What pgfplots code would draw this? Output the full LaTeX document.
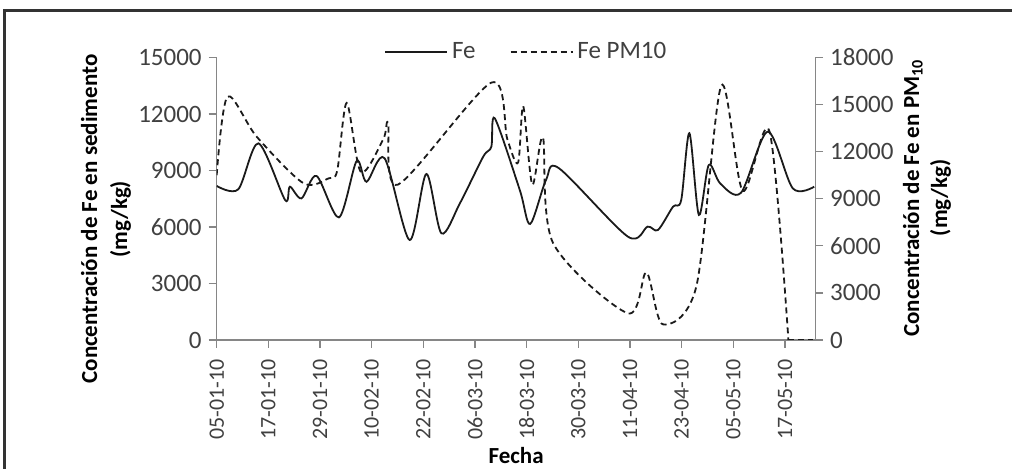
\documentclass[border=0pt]{standalone}
\usepackage{fontspec}
\setmainfont{Carlito}
\usepackage{pgfplots}
\pgfplotsset{compat=1.18}
\definecolor{axgray}{HTML}{868686}
\definecolor{tickc}{HTML}{404040}
\definecolor{linec}{HTML}{1A1A1A}
\definecolor{framec}{HTML}{333333}
\newcommand{\xtickfont}{\fontsize{11}{13}\selectfont}
\newcommand{\ytickfont}{\fontsize{12.5}{14}\selectfont}
\newcommand{\legfont}{\fontsize{12.5}{15}\selectfont}
\pgfplotsset{
  myaxis/.style={
    scale only axis, width=299.2pt, height=141.25pt,
    at={(0pt,0pt)}, anchor=south west,
    xmin=0, xmax=139,
    axis line style={axgray, line width=0.6pt},
    tick style={axgray, line width=0.6pt},
    tick align=outside, major tick length=4pt,
    yticklabel style={tickc, font=\ytickfont},
    scaled y ticks=false,
    yticklabel={\pgfmathprintnumber[fixed,precision=0,1000 sep={},assume math mode=true]{\tick}},
    clip=true,
  }
}
\begin{document}
\begin{tikzpicture}
\useasboundingbox (-108.35pt,-64.5pt) rectangle (397.65pt,170pt);
\draw[framec, line width=1.5pt] (-105.85pt,-70pt) -- (-105.85pt,164.5pt) -- (400pt,164.5pt);
\begin{axis}[myaxis,
  ymin=0, ymax=15000,
  axis x line*=bottom, axis y line*=left,
  xtick={0,12,...,132},
  xticklabels={05-01-10,17-01-10,29-01-10,10-02-10,22-02-10,06-03-10,18-03-10,30-03-10,11-04-10,23-04-10,05-05-10,17-05-10},
  xticklabel style={rotate=90, anchor=east, tickc, font=\xtickfont},
  xticklabel shift=2pt,
  ytick={0,3000,...,15000},
  xlabel={Fecha},
  xlabel style={at={(axis description cs:0.5003,-0.41)}, anchor=center, font=\bfseries\fontsize{11.5}{14}\selectfont},
  ylabel={Concentración de Fe en sedimento\\(mg/kg)},
  ylabel style={at={(axis description cs:-0.185,0.428)}, anchor=center, align=center, font=\bfseries\fontsize{11.5}{15}\selectfont},
  legend columns=2,
  legend style={at={(axis description cs:0.519,1.0195)}, anchor=center, draw=none, fill=none,
    text=tickc, font=\legfont,
    /tikz/every even column/.append style={column sep=15pt}},
  legend image code/.code={\draw[#1] (0pt,0pt) -- (31pt,0pt);},
]
\addplot[linec, line width=0.9pt, smooth] coordinates {
(0,8180) (5,8000) (9.7,10440) (15.9,7430) (17,8140) (19.7,7520) (23.2,8710)
(28.4,6510) (32.5,9500) (34.8,8400) (39,9650) (44.8,5310) (48.7,8815) (52.2,5665)
(56.5,7260) (61.9,9730) (63.8,10260) (64.6,11770) (70.4,7965) (72.8,6160) (76.5,8500)
(79.5,9120) (95.5,5490) (100.1,6020) (102.5,5840) (106,7080) (107.9,7430) (109.8,10980)
(112,6640) (114.3,9290) (117,8300) (121.8,7820) (128,11060) (133.8,8055) (138.8,8140)
};
\addlegendentry{Fe}
\addlegendimage{linec, line width=0.9pt, dash pattern=on 3pt off 2pt}
\addlegendentry{Fe PM10}
\end{axis}
\begin{axis}[myaxis,
  ymin=0, ymax=18000,
  axis x line=none, axis y line*=right,
  ytick={0,3000,...,18000},
  ylabel={Concentración de Fe en PM\textsubscript{10}\\(mg/kg)},
  ylabel style={at={(axis description cs:1.187,0.503)}, anchor=center, align=center, font=\bfseries\fontsize{11.5}{14}\selectfont},
]
\addplot[linec, line width=0.9pt, dash pattern=on 3pt off 2pt, smooth] coordinates {
(0,10500) (2.5,15500) (9.3,12950) (20.1,10000) (26,10300) (28,10800) (30.2,15100)
(33.5,10700) (38.7,12800) (39.8,13800) (42.1,9900) (63.8,16400) (67.5,12800) (70,11300)
(71.2,14900) (73.3,9900) (75.8,12900) (78.1,6200) (95.5,1700) (99.8,4300) (103.6,1000)
(111.4,3400) (117.2,16200) (122.2,9500) (128.4,13300) (132.8,0)
};
\addplot[linec, line width=0.9pt, dash pattern=on 3pt off 2pt] coordinates {(132.8,0) (138.5,0)};
\end{axis}
\end{tikzpicture}
\end{document}
